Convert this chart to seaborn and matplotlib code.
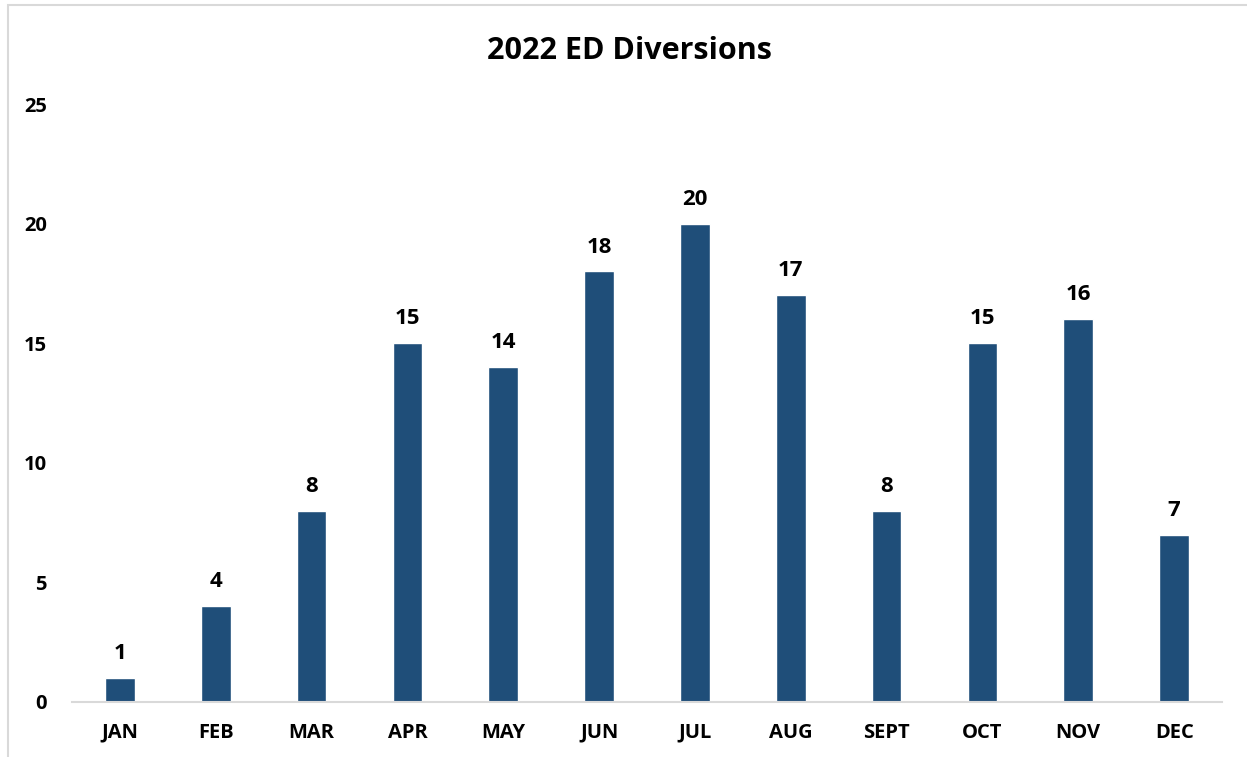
import matplotlib
matplotlib.use("Agg")
import matplotlib.pyplot as plt
import pandas as pd
import seaborn as sns
from matplotlib.patches import Rectangle

# ---- data ----
MONTHS = ["JAN", "FEB", "MAR", "APR", "MAY", "JUN",
          "JUL", "AUG", "SEPT", "OCT", "NOV", "DEC"]
DIVERSIONS = [1, 4, 8, 15, 14, 18, 20, 17, 8, 15, 16, 7]
Y_TICKS = [0, 5, 10, 15, 20, 25]

BAR_COLOR = "#1F4E79"
AXIS_GRAY = "#D9D9D9"

sns.set_theme(style="white")
plt.rcParams["font.family"] = ["Open Sans", "DejaVu Sans"]
plt.rcParams["font.weight"] = "bold"
plt.rcParams["text.color"] = "black"
plt.rcParams["xtick.color"] = "black"
plt.rcParams["ytick.color"] = "black"

df = pd.DataFrame({"month": MONTHS, "count": DIVERSIONS})

fig = plt.figure(figsize=(12.47, 7.57), dpi=100)
ax = fig.add_axes([0.0577, 0.0727, 0.9223, 0.7899])

sns.barplot(data=df, x="month", y="count", color=BAR_COLOR,
            width=0.31, saturation=1, ax=ax)

for i, v in enumerate(DIVERSIONS):
    ax.annotate(str(v), (i, v), xytext=(0, 10), textcoords="offset points",
                ha="center", va="bottom", fontsize=16, fontweight="bold")

ax.set_ylim(0, 25)
ax.set_xlim(-0.5, len(MONTHS) - 0.5)
ax.set_yticks(Y_TICKS)
ax.set_xlabel("")
ax.set_ylabel("")
ax.tick_params(axis="x", length=0, pad=15, labelsize=14.5)
ax.tick_params(axis="y", length=0, pad=18, labelsize=14.5)
for lbl in ax.get_xticklabels() + ax.get_yticklabels():
    lbl.set_fontweight("bold")

for side in ["top", "right", "left"]:
    ax.spines[side].set_visible(False)
ax.spines["bottom"].set_color(AXIS_GRAY)
ax.spines["bottom"].set_linewidth(1.5)

fig.text(0.505, 0.933, "2022 ED Diversions", ha="center", va="center",
         fontsize=22, fontweight="bold")

# light chart-area border (cropped on right/bottom in the original)
fig.patches.append(Rectangle((8 / 1247, -0.1), 1.2, 1.1 - 5 / 757,
                             transform=fig.transFigure, fill=False,
                             edgecolor=AXIS_GRAY, linewidth=1.5))

fig.savefig("out.png", dpi=100)
